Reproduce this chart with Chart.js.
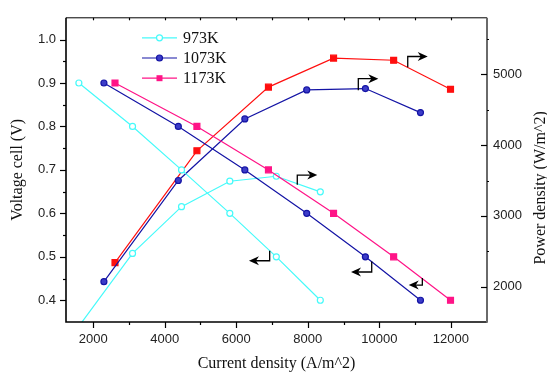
<!DOCTYPE html>
<html>
<head>
<meta charset="utf-8">
<script src="https://cdn.jsdelivr.net/npm/chart.js@4.4.1/dist/chart.umd.min.js"></script>
<style>
  html, body { margin: 0; padding: 0; background: #fff; }
</style>
</head>
<body>
<canvas id="c" width="547" height="378"></canvas>
<script>
// Cell temperatures
const seriesNames = ['973K', '1073K', '1173K'];

// Current density (A/m^2) of each measured point
const current973  = [1600, 3100, 4470, 5820, 7120, 8350];
const current1073 = [2300, 4380, 6240, 7970, 9610, 11150];
const current1173 = [2610, 4900, 6900, 8720, 10400, 11990];

// Cell voltage (V)
const voltage973  = [0.9, 0.8, 0.7, 0.6, 0.5, 0.4];
const voltage1073 = [0.9, 0.8, 0.7, 0.6, 0.5, 0.4];
const voltage1173 = [0.9, 0.8, 0.7, 0.6, 0.5, 0.4];

// Power density (W/m^2)
const power973  = [1440, 2470, 3130, 3490, 3560, 3340];
const power1073 = [2070, 3500, 4370, 4780, 4800, 4460];
const power1173 = [2340, 3920, 4820, 5230, 5200, 4790];

// Tick labels
const currentTicks = [2000, 4000, 6000, 8000, 10000, 12000];
const voltageTicks = [0.4, 0.5, 0.6, 0.7, 0.8, 0.9, 1.0];
const powerTicks   = [2000, 3000, 4000, 5000];

// Bent arrows telling which axis a curve belongs to (axis units: current, voltage)
const axisArrows = [
  { x: 7706,  yFrom: 0.666, yTo: 0.688, xTip: 8265 },
  { x: 9412,  yFrom: 0.883, yTo: 0.910, xTip: 9972 },
  { x: 10794, yFrom: 0.936, yTo: 0.961, xTip: 11353 },
  { x: 6934,  yFrom: 0.514, yTo: 0.491, xTip: 6355 },
  { x: 9787,  yFrom: 0.489, yTo: 0.465, xTip: 9208 },
  { x: 11202, yFrom: 0.451, yTo: 0.435, xTip: 10822 }
];

const CYAN = 'rgb(70,250,250)';
const NAVY = 'rgb(20,20,165)';
const PINK = 'rgb(255,20,135)';
const RED  = 'rgb(255,15,15)';

const pts = (xs, ys) => xs.map((x, i) => ({ x: x, y: ys[i] }));

function lineSet(label, xs, ys, axis, color, style, fill, radius) {
  return {
    label: label,
    data: pts(xs, ys),
    yAxisID: axis,
    borderColor: color,
    backgroundColor: fill,
    borderWidth: 1.2,
    tension: 0,
    pointStyle: style,
    pointRadius: radius,
    pointBorderWidth: 1.2,
    pointBorderColor: color,
    pointBackgroundColor: fill
  };
}

const datasets = [
  lineSet(seriesNames[0], current973,  voltage973,  'yV', CYAN, 'circle', '#fff', 3),
  lineSet(seriesNames[1], current1073, voltage1073, 'yV', NAVY, 'circle', 'rgb(60,60,200)', 3),
  lineSet(seriesNames[2], current1173, voltage1173, 'yV', PINK, 'rect', PINK, 4.2),
  lineSet(seriesNames[0] + ' power', current973,  power973,  'yP', CYAN, 'circle', '#fff', 3),
  lineSet(seriesNames[1] + ' power', current1073, power1073, 'yP', NAVY, 'circle', 'rgb(60,60,200)', 3),
  lineSet(seriesNames[2] + ' power', current1173, power1173, 'yP', RED, 'rect', RED, 4.2)
];

const TICK_FONT = { family: 'Liberation Sans', size: 13 };
const SERIF = '16px "Liberation Serif"';

// Frame, tick marks, axis titles, legend and arrows
const decorations = {
  id: 'decorations',
  afterDatasetsDraw(chart) {
    const ctx = chart.ctx;
    const a = chart.chartArea;
    const sx = chart.scales.x, sv = chart.scales.yV, sp = chart.scales.yP;
    ctx.save();

    // axis lines
    ctx.lineCap = 'butt';
    ctx.strokeStyle = '#000';
    ctx.lineWidth = 1;
    ctx.beginPath(); ctx.moveTo(a.left, a.top); ctx.lineTo(a.right, a.top); ctx.stroke();
    ctx.lineWidth = 1.6;
    ctx.beginPath(); ctx.moveTo(a.left, a.top); ctx.lineTo(a.left, a.bottom); ctx.lineTo(a.right, a.bottom); ctx.stroke();
    ctx.strokeStyle = '#6a6a6a';
    ctx.lineWidth = 2;
    ctx.beginPath(); ctx.moveTo(a.right, a.top); ctx.lineTo(a.right, a.bottom + 0.8); ctx.stroke();

    // tick marks
    ctx.strokeStyle = '#000';
    ctx.lineWidth = 1.2;
    const seg = (x1, y1, x2, y2) => { ctx.beginPath(); ctx.moveTo(x1, y1); ctx.lineTo(x2, y2); ctx.stroke(); };
    for (let v = 1000; v <= 13000; v += 1000) {
      const px = Math.round(sx.getPixelForValue(v)) + 0.5;
      if (px <= a.left + 1 || px >= a.right - 1) continue;
      const major = v % 2000 === 0;
      seg(px, a.bottom, px, a.bottom + (major ? 6 : 3));
      seg(px, a.top, px, a.top + 2.5);
    }
    for (let k = 7; k <= 21; k++) {
      const v = k / 20;
      const py = Math.round(sv.getPixelForValue(v)) + 0.5;
      if (py <= a.top + 1 || py >= a.bottom - 1) continue;
      seg(a.left, py, a.left - (k % 2 === 0 ? 6 : 3), py);
    }
    for (let v = 1500; v <= 5800; v += 500) {
      const py = Math.round(sp.getPixelForValue(v)) + 0.5;
      if (py <= a.top + 1 || py >= a.bottom - 1) continue;
      if (v % 1000 === 0) seg(a.right, py, a.right - 6, py);
      else seg(a.right, py, a.right + 2, py);
    }

    // axis titles
    ctx.fillStyle = '#111';
    ctx.font = SERIF;
    ctx.textAlign = 'center';
    ctx.textBaseline = 'middle';
    ctx.fillText('Current density (A/m^2)', (a.left + a.right) / 2, 364);
    ctx.save();
    ctx.translate(18, (a.top + a.bottom) / 2);
    ctx.rotate(-Math.PI / 2);
    ctx.fillText('Voltage cell (V)', 0, 0);
    ctx.restore();
    ctx.save();
    ctx.translate(541, (a.top + a.bottom) / 2 + 18);
    ctx.rotate(-Math.PI / 2);
    ctx.fillText('Power density (W/m^2)', 0, 0);
    ctx.restore();

    // legend
    const rows = [0, 1, 2];
    rows.forEach(i => {
      const ds = chart.data.datasets[i];
      const y = a.top + 20 + i * 20.2;
      const x0 = a.left + 76, x1 = a.left + 111;
      ctx.strokeStyle = ds.borderColor;
      ctx.lineWidth = 1.2;
      seg(x0, y, x1, y);
      const mx = (x0 + x1) / 2;
      ctx.fillStyle = ds.pointBackgroundColor;
      ctx.beginPath();
      if (ds.pointStyle === 'rect') {
        ctx.rect(mx - 3, y - 3, 6, 6);
        ctx.fill();
      } else {
        ctx.arc(mx, y, 3, 0, Math.PI * 2);
        ctx.fill();
        ctx.stroke();
      }
      ctx.fillStyle = '#111';
      ctx.font = SERIF;
      ctx.textAlign = 'left';
      ctx.fillText(ds.label, a.left + 117, y + 0.5);
    });

    // bent arrows
    ctx.strokeStyle = '#000';
    ctx.fillStyle = '#000';
    ctx.lineWidth = 1.3;
    axisArrows.forEach(ar => {
      const px = sx.getPixelForValue(ar.x);
      const py0 = sv.getPixelForValue(ar.yFrom);
      const py1 = sv.getPixelForValue(ar.yTo);
      const tip = sx.getPixelForValue(ar.xTip);
      const dir = Math.sign(tip - px);
      ctx.beginPath();
      ctx.moveTo(px, py0);
      ctx.lineTo(px, py1);
      ctx.lineTo(tip - dir * 6, py1);
      ctx.stroke();
      ctx.beginPath();
      ctx.moveTo(tip, py1);
      ctx.lineTo(tip - dir * 10, py1 - 4.5);
      ctx.lineTo(tip - dir * 7, py1);
      ctx.lineTo(tip - dir * 10, py1 + 4.5);
      ctx.closePath();
      ctx.fill();
    });

    ctx.restore();
  }
};

new Chart(document.getElementById('c'), {
  type: 'line',
  data: { datasets: datasets },
  options: {
    responsive: false,
    animation: false,
    devicePixelRatio: 1,
    layout: { padding: { top: 7.5, left: 0, right: 0, bottom: 0 } },
    plugins: { legend: { display: false }, tooltip: { enabled: false } },
    scales: {
      x: {
        type: 'linear',
        position: 'bottom',
        min: 1240,
        max: 13010,
        grid: { display: false, drawTicks: false },
        border: { display: false },
        ticks: { font: TICK_FONT, color: '#222', padding: 10, maxRotation: 0,
                 callback: v => String(v) },
        afterBuildTicks: s => { s.ticks = currentTicks.map(v => ({ value: v })); },
        afterFit: s => { s.height = 56; }
      },
      yV: {
        type: 'linear',
        position: 'left',
        min: 0.35,
        max: 1.05,
        grid: { display: false, drawTicks: false },
        border: { display: false },
        ticks: { font: TICK_FONT, color: '#222', padding: 10,
                 callback: v => Number(v).toFixed(1) },
        afterBuildTicks: s => { s.ticks = voltageTicks.map(v => ({ value: v })); },
        afterFit: s => { s.width = 66; }
      },
      yP: {
        type: 'linear',
        position: 'right',
        min: 1500,
        max: 5800,
        grid: { display: false, drawTicks: false },
        border: { display: false },
        ticks: { font: TICK_FONT, color: '#222', padding: 6,
                 callback: v => String(v) },
        afterBuildTicks: s => { s.ticks = powerTicks.map(v => ({ value: v })); },
        afterFit: s => { s.width = 60; }
      }
    }
  },
  plugins: [decorations]
});
</script>
</body>
</html>
